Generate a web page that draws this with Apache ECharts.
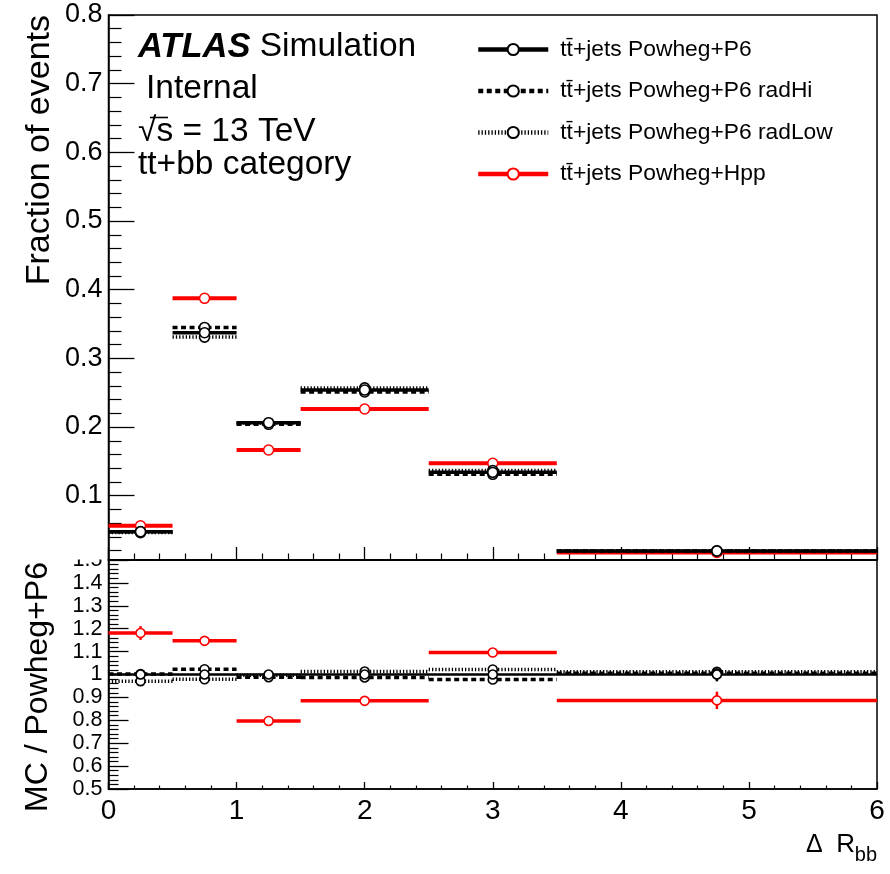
<!DOCTYPE html>
<html>
<head>
<meta charset="utf-8">
<script src="https://cdn.jsdelivr.net/npm/echarts@6/dist/echarts.min.js"></script>
<style>
  html, body { margin: 0; padding: 0; background: #fff; }
  #chart { width: 890px; height: 874px; }
</style>
</head>
<body>
<div id="chart"></div>
<script>
// Delta R between the two b-jets, tt+bb category: bin edges and per-bin fractions
const binEdges = [0, 0.5, 1, 1.5, 2.5, 3.5, 6];

const fracP6     = [0.0476, 0.3374, 0.2063, 0.2539, 0.1340, 0.0195];
const fracRadHi  = [0.0477, 0.3450, 0.2040, 0.2510, 0.1312, 0.0196];
const fracRadLow = [0.0463, 0.3310, 0.2058, 0.2570, 0.1368, 0.0198];
const fracHpp    = [0.0563, 0.3875, 0.1666, 0.2263, 0.1472, 0.0174];

// ratio to the nominal Powheg+Pythia6 sample
const ratioP6     = [1, 1, 1, 1, 1, 1];
const ratioRadHi  = [1.002, 1.023, 0.988, 0.987, 0.978, 1.005];
const ratioRadLow = [0.971, 0.979, 0.997, 1.013, 1.022, 1.012];
const ratioHpp    = [1.181, 1.147, 0.797, 0.885, 1.096, 0.887];

// statistical uncertainty on the ratio
const errP6  = [0.004, 0.002, 0.002, 0.002, 0.003, 0.030];
const errHpp = [0.030, 0.006, 0.005, 0.004, 0.006, 0.038];

const seriesNames = [
  'tt\u0304+jets Powheg+P6',
  'tt\u0304+jets Powheg+P6 radHi',
  'tt\u0304+jets Powheg+P6 radLow',
  'tt\u0304+jets Powheg+Hpp'
];

const fracTickLabels  = [0.1, 0.2, 0.3, 0.4, 0.5, 0.6, 0.7, 0.8];
const ratioTickLabels = [0.5, 0.6, 0.7, 0.8, 0.9, 1, 1.1, 1.2, 1.3, 1.4, 1.5];
const xTickLabels     = [0, 1, 2, 3, 4, 5, 6];

const FONT = "'Liberation Sans', Arial, Helvetica, sans-serif";

// minor tick positions for the fraction axis (5 subdivisions per 0.1)
const fracMinorTicks = [];
for (let k = 1; k <= 39; k++) {
  if (k % 5 !== 0) fracMinorTicks.push(+(k * 0.02).toFixed(2));
}

// each bin becomes a flat segment with an open marker at the bin centre
function segments(vals) {
  const out = [];
  vals.forEach((v, i) => {
    const a = binEdges[i], b = binEdges[i + 1];
    out.push({ value: [a, v], symbol: 'none' });
    out.push({ value: [(a + b) / 2, v] });
    out.push({ value: [b, v], symbol: 'none' });
    out.push({ value: [b, '-'], symbol: 'none' });
  });
  return out;
}

function errorBars(vals, errs) {
  return vals.map((v, i) => [(binEdges[i] + binEdges[i + 1]) / 2, v - errs[i], v + errs[i]]);
}

const styles = [
  { color: '#000000', type: 'solid', width: 3.5, rwidth: 2.5 },
  { color: '#000000', type: [5, 3.5], width: 3.5, rwidth: 3.5 },
  { color: '#000000', type: [1.3, 2], width: 3.5, rwidth: 3.5 },
  { color: '#ff0000', type: 'solid', width: 4, rwidth: 3.5 }
];
const fracSets  = [fracP6, fracRadHi, fracRadLow, fracHpp];
const ratioSets = [ratioP6, ratioRadHi, ratioRadLow, ratioHpp];

// draw order: Hpp first, nominal last
const drawOrder = [3, 2, 1, 0];

const series = [];
drawOrder.forEach(k => {
  const st = styles[k];
  const common = {
    type: 'line',
    name: seriesNames[k],
    symbol: 'circle',
    symbolSize: 10,
    showSymbol: true,
    showAllSymbol: true,
    connectNulls: false,
    animation: false,
    itemStyle: { color: '#ffffff', borderColor: st.color, borderWidth: 1.6 },
    emphasis: { disabled: true }
  };
  series.push(Object.assign({}, common, {
    xAxisIndex: 0, yAxisIndex: 0,
    lineStyle: { color: st.color, type: st.type, width: st.width, cap: 'butt' },
    data: segments(fracSets[k])
  }));
  series.push(Object.assign({}, common, {
    xAxisIndex: 1, yAxisIndex: 2,
    symbolSize: 9,
    lineStyle: { color: st.color, type: st.type, width: st.rwidth, cap: 'butt' },
    data: segments(ratioSets[k])
  }));
});

function errSeries(vals, errs, color) {
  return {
    type: 'custom',
    xAxisIndex: 1, yAxisIndex: 2,
    z: 1,
    animation: false,
    silent: true,
    encode: { x: 0, y: [1, 2] },
    data: errorBars(vals, errs),
    renderItem: (params, api) => {
      const p1 = api.coord([api.value(0), api.value(1)]);
      const p2 = api.coord([api.value(0), api.value(2)]);
      return {
        type: 'line',
        shape: { x1: p1[0], y1: p1[1], x2: p2[0], y2: p2[1] },
        style: { stroke: color, lineWidth: 2.5 }
      };
    }
  };
}
series.unshift(errSeries(ratioHpp, errHpp, '#ff0000'));
series.unshift(errSeries(ratioP6, errP6, '#000000'));

const axisLine = { show: true, lineStyle: { color: '#000', width: 1.5 } };

const option = {
  animation: false,
  backgroundColor: '#ffffff',
  textStyle: { fontFamily: FONT, color: '#000' },
  grid: [
    { left: 108.5, top: 15, width: 768.5, height: 545, show: true, borderColor: '#000', borderWidth: 1.5, backgroundColor: 'transparent' },
    { left: 108.5, top: 560, width: 768.5, height: 229, show: true, borderColor: '#000', borderWidth: 1.5, backgroundColor: 'transparent' }
  ],
  xAxis: [
    {
      type: 'value', gridIndex: 0, min: 0, max: 6, interval: 1,
      axisLine: axisLine,
      axisTick: { show: true, inside: true, length: 13, lineStyle: { color: '#000', width: 1.3 } },
      minorTick: { show: true, splitNumber: 5, length: 6.5, lineStyle: { color: '#000', width: 1.2 } },
      axisLabel: { show: false },
      splitLine: { show: false }
    },
    {
      type: 'value', gridIndex: 1, min: 0, max: 6, interval: 1,
      axisLine: axisLine,
      axisTick: { show: true, inside: true, length: 7, lineStyle: { color: '#000', width: 1.3 } },
      minorTick: { show: true, splitNumber: 5, length: 3.5, lineStyle: { color: '#000', width: 1.2 } },
      axisLabel: {
        show: true, fontSize: 28, color: '#000', fontFamily: FONT, margin: 8,
        customValues: xTickLabels,
        formatter: v => String(v)
      },
      splitLine: { show: false }
    }
  ],
  yAxis: [
    {
      type: 'value', gridIndex: 0, min: 0.0064, max: 0.8, position: 'left',
      axisLine: axisLine,
      axisTick: { show: true, inside: true, length: 26, customValues: fracTickLabels, lineStyle: { color: '#000', width: 1.3 } },
      axisLabel: {
        show: true, fontSize: 27, color: '#000', fontFamily: FONT, margin: 6,
        customValues: fracTickLabels,
        formatter: v => v.toFixed(1)
      },
      splitLine: { show: false }
    },
    {
      type: 'value', gridIndex: 0, min: 0.0064, max: 0.8, position: 'left', offset: 0,
      axisLine: { show: false },
      axisTick: { show: true, inside: true, length: 13, customValues: fracMinorTicks, lineStyle: { color: '#000', width: 1.2 } },
      axisLabel: { show: false },
      splitLine: { show: false }
    },
    {
      type: 'value', gridIndex: 1, min: 0.5, max: 1.5, interval: 0.1, position: 'left',
      axisLine: axisLine,
      axisTick: { show: true, inside: true, length: 20, lineStyle: { color: '#000', width: 1.3 } },
      minorTick: { show: true, splitNumber: 5, length: 10, lineStyle: { color: '#000', width: 1.2 } },
      axisLabel: {
        show: true, fontSize: 21.5, color: '#000', fontFamily: FONT, margin: 6,
        customValues: ratioTickLabels,
        formatter: v => (Math.abs(v - 1) < 1e-9 ? '1' : v.toFixed(1))
      },
      splitLine: { show: false }
    }
  ],
  legend: {
    data: seriesNames,
    orient: 'vertical',
    left: 471,
    top: 33,
    itemWidth: 70,
    itemHeight: 14,
    itemGap: 18.5,
    selectedMode: false,
    lineStyle: { width: 4.5 },
    textStyle: { fontSize: 22.8, color: '#000', fontFamily: FONT, padding: [0, 0, 0, 7] }
  },
  graphic: [
    // the upper pad hides the top half of the ratio "1.5" label
    { type: 'rect', z: 100, shape: { x: 40, y: 540, width: 67, height: 19.5 }, style: { fill: '#ffffff' } },
    {
      type: 'text', z: 101, x: 138, y: 47,
      style: {
        text: '{b|ATLAS} Simulation',
        font: '33.5px ' + FONT, fill: '#000', verticalAlign: 'middle', align: 'left',
        rich: { b: { fontWeight: 'bold', fontStyle: 'italic', fontSize: 34.5, fontFamily: FONT } }
      }
    },
    { type: 'text', z: 101, x: 146, y: 89, style: { text: 'Internal', font: '33.5px ' + FONT, fill: '#000', verticalAlign: 'middle' } },
    { type: 'text', z: 101, x: 138, y: 132, style: { text: '\u221As = 13 TeV', font: '33.5px ' + FONT, fill: '#000', verticalAlign: 'middle' } },
    // bar of the square root extending over the "s"
    { type: 'line', z: 101, shape: { x1: 150, y1: 117.5, x2: 168, y2: 117.5 }, style: { stroke: '#000', lineWidth: 1.6 } },
    { type: 'text', z: 101, x: 138, y: 165, style: { text: 'tt+bb category', font: '33.5px ' + FONT, fill: '#000', verticalAlign: 'middle' } },
    {
      type: 'text', z: 101, x: 40, y: 15, rotation: Math.PI / 2,
      style: { text: 'Fraction of events', font: '34px ' + FONT, fill: '#000', align: 'right', verticalAlign: 'middle' }
    },
    {
      type: 'text', z: 101, x: 38, y: 562, rotation: Math.PI / 2,
      style: { text: 'MC / Powheg+P6', font: '32px ' + FONT, fill: '#000', align: 'right', verticalAlign: 'middle' }
    },
    { type: 'text', z: 101, x: 806, y: 845, style: { text: '\u0394', font: '25px ' + FONT, fill: '#000', align: 'left', verticalAlign: 'middle' } },
    { type: 'text', z: 101, x: 855, y: 845, style: { text: 'R', font: '26px ' + FONT, fill: '#000', align: 'right', verticalAlign: 'middle' } },
    { type: 'text', z: 101, x: 877, y: 855.5, style: { text: 'bb', font: '20px ' + FONT, fill: '#000', align: 'right', verticalAlign: 'middle' } }
  ],
  series: series
};

const chart = echarts.init(document.getElementById('chart'), null, { renderer: 'canvas' });
chart.setOption(option);
</script>
</body>
</html>
